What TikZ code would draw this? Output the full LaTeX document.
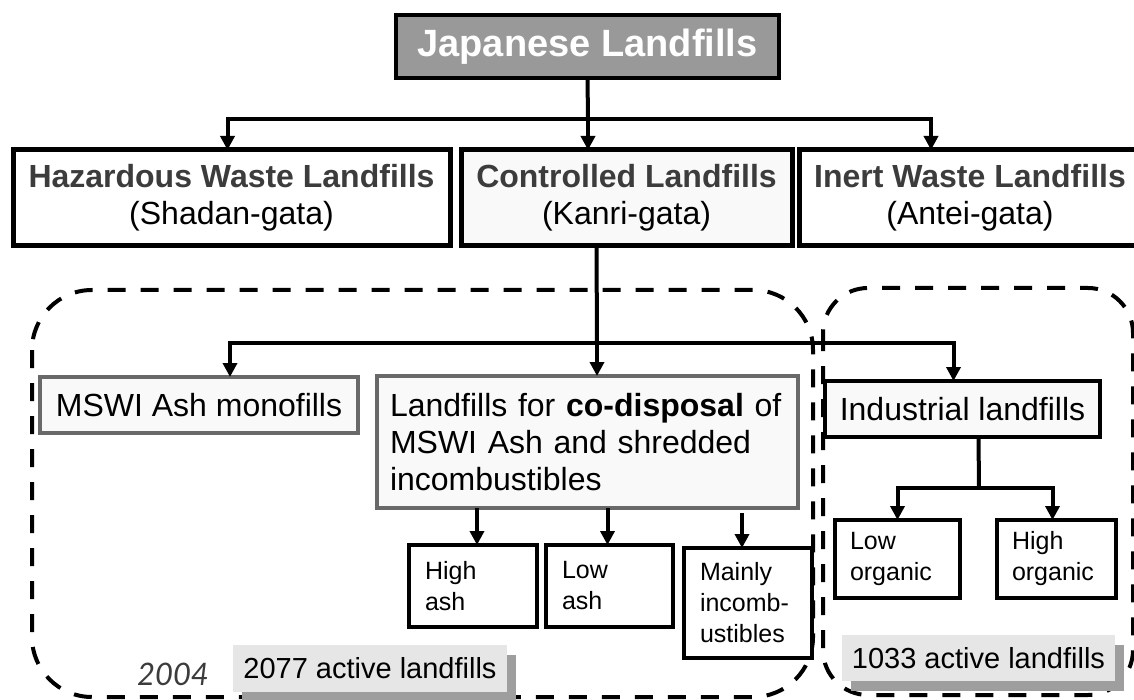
\documentclass[tikz,border=0pt]{standalone}
\usepackage{fontspec}
\setmainfont{Liberation Sans}
\newfontfamily\yearfont{Lato}
\usetikzlibrary{arrows.meta,shadows}
\definecolor{myDarkGray}{RGB}{60,60,60}
\definecolor{myBoxGray}{RGB}{153,153,153}
\definecolor{myPaleGray}{RGB}{249,249,249}
\definecolor{myLabelGray}{RGB}{230,230,230}
\definecolor{myEdgeGray}{RGB}{105,105,105}

\begin{document}
\begin{tikzpicture}[x=1pt,y=-1pt,
		every node/.style={inner sep=0pt, outer sep=0pt, font=\fontsize{32}{37}\selectfont},
		kind/.style={draw, line width=5pt, fill=white, minimum height=96pt, align=center, text=myDarkGray},
		sub/.style={draw, line width=4pt, fill=myPaleGray},
		leaf/.style={draw, line width=4.5pt, fill=white, align=left, font=\fontsize{25}{31}\selectfont},
		tag/.style={fill=myLabelGray, font=\fontsize{29}{29}\selectfont,
			drop shadow={shadow xshift=9pt, shadow yshift=-10pt, opacity=1, fill=black!38}},
		link/.style={line width=4pt},
		zone/.style={line width=4pt, dash pattern=on 18pt off 15pt}]
			\useasboundingbox (0,0) rectangle (1134,700);

			\draw[zone, rounded corners=60pt] (32,290) rectangle (813,697);
			\draw[zone, rounded corners=45pt] (823,288) rectangle (1133,695);

			\draw (587.5,46.5) node[draw, line width=4pt, fill=myBoxGray, minimum width=383pt, minimum height=63pt, text=white, font=\fontsize{38}{38}\selectfont\bfseries] (top) {Japanese Landfills};

			\draw (231.5,198) node[kind, minimum width=437pt] (haz) {\textbf{Hazardous Waste Landfills}\\\textcolor{black}{(Shadan-gata)}};
			\draw (626.5,198) node[kind, minimum width=331pt, fill=myPaleGray] (ctrl) {\textbf{Controlled Landfills}\\\textcolor{black}{(Kanri-gata)}};
			\draw (970,198) node[kind, minimum width=342pt] (inert) {\textbf{Inert Waste Landfills}\\\textcolor{black}{(Antei-gata)}};

			\draw (199,405) node[sub, draw=myEdgeGray, minimum width=318pt, minimum height=56pt] (mswi) {MSWI Ash monofills};
			\draw (587.5,442) node[sub, draw=myEdgeGray, minimum width=421pt, minimum height=132pt, text width=395pt, align=left] (codisp) {Landfills for \textbf{co-disposal} of MSWI Ash and shredded incombustibles};
			\draw (962.5,409) node[sub, minimum width=275pt, minimum height=56pt] (indus) {Industrial landfills};

			\draw (473,586) node[leaf, minimum width=128pt, minimum height=82pt, text width=96pt] (hiash) {High\\ash};
			\draw (609.5,586) node[leaf, minimum width=127pt, minimum height=82pt, text width=95pt] (loash) {Low\\ash};
			\draw (748,603) node[leaf, minimum width=128pt, minimum height=110pt, text width=96pt] (mainly) {Mainly\\incomb-\\ustibles};
			\draw (897.5,559) node[leaf, minimum width=125pt, minimum height=78pt, text width=95pt] (loorg) {Low\\organic};
			\draw (1056.5,559) node[leaf, minimum width=119pt, minimum height=78pt, text width=89pt] (hiorg) {High\\organic};

			\draw (370,668.5) node[tag, minimum width=274pt, minimum height=47pt] (cnta) {2077 active landfills};
			\draw (978.5,658) node[tag, minimum width=273pt, minimum height=46pt] (cntb) {1033 active landfills};
			\draw (173,674) node[font=\yearfont\itshape\fontsize{31}{31}\selectfont, text=myDarkGray] (year) {2004};

			\coordinate (hub) at (588,119);
			\coordinate (fork) at (597,343);
			\coordinate (split) at (979,488);

			\draw[link] (top.south) -- (hub);
			\draw[link] ([xshift=-30pt]ctrl.south) -- (fork);
			\draw[link] ([xshift=16pt]indus.south) -- (split);

			\path[link, -{Triangle[width=14pt,length=14pt]}]
			(hub) edge (hub |- haz.north)
			(hub) edge[to path={-| (\tikztotarget)}] ([xshift=-4pt]haz.north)
			(hub) edge[to path={-| (\tikztotarget)}] ([xshift=-39pt]inert.north)
			(fork) edge (fork |- codisp.north)
			(fork) edge[to path={-| (\tikztotarget)}] ([xshift=31pt]mswi.north)
			(fork) edge[to path={-| (\tikztotarget)}] ([xshift=-9pt]indus.north)
			([xshift=4pt]hiash.north |- codisp.south) edge ([xshift=4pt]hiash.north)
			([xshift=-2pt]loash.north |- codisp.south) edge ([xshift=-2pt]loash.north)
			([xshift=-6pt,yshift=-5pt]mainly.north |- codisp.south) edge ([xshift=-6pt]mainly.north)
			(split) edge[to path={-| (\tikztotarget)}] (loorg.north)
			(split) edge[to path={-| (\tikztotarget)}] ([xshift=-4pt]hiorg.north)
			;
		\end{tikzpicture}
\end{document}
